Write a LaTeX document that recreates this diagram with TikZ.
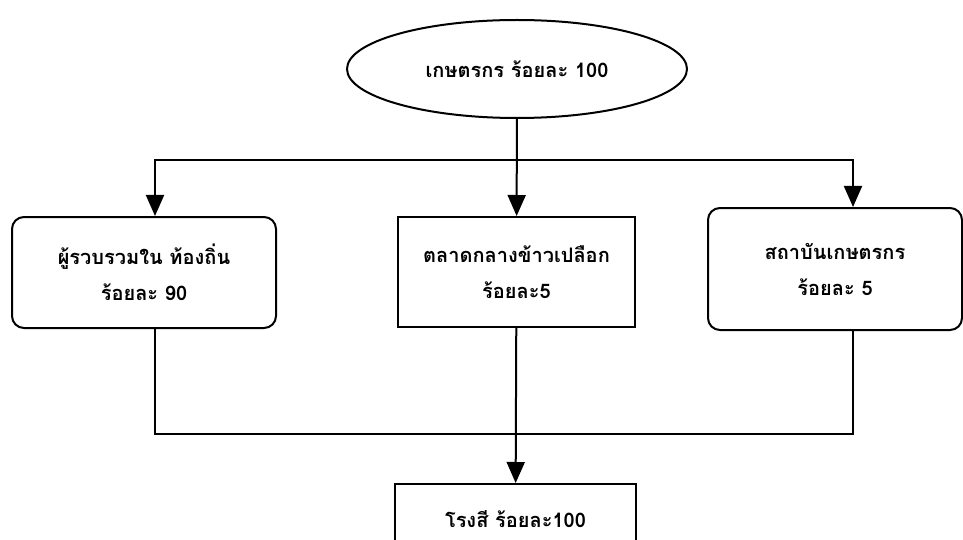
\documentclass[tikz,border=0pt]{standalone}
\usepackage{fontspec}
\newfontfamily\thaifont[Script=Thai]{Loma}
\usepackage{tikz}
\usetikzlibrary{arrows.meta,positioning,shapes.geometric}

\begin{document}
\begin{tikzpicture}[x=1pt,y=-1pt,
		line width=2pt,
		every node/.style={font=\thaifont\bfseries\fontsize{20}{36}\selectfont,align=center,inner sep=0pt},
		oval/.style={draw,ellipse,minimum width=340,minimum height=98},
		roundbox/.style={draw,rounded corners=12pt},
		squarebox/.style={draw},
		flow/.style={-{Triangle[length=21pt,width=18pt]}}]
				\clip (0,0) rectangle (963,540);
				\node[oval] (farmer) at (517,69) {เกษตรกร ร้อยละ 100};
				\node[roundbox,minimum width=264,minimum height=111] (collector) at (144,272.5) {ผู้รวบรวมใน ท้องถิ่น\\ร้อยละ 90};
				\node[squarebox,minimum width=237,minimum height=110] (market) at (516.5,272) {ตลาดกลางข้าวเปลือก\\ร้อยละ5};
				\node[roundbox,minimum width=254,minimum height=122] (coop) at (835,269) {สถาบันเกษตรกร\\ร้อยละ 5};
				\node[squarebox,minimum width=241,minimum height=70,anchor=north] (mill) at (515.5,483) {โรงสี ร้อยละ100};
				\coordinate (split) at (516.5,160);
				\coordinate (merge) at (516.5,434);
				\draw[flow] (farmer) -- (market);
				\draw[flow] (split) -| ([xshift=11pt]collector.north);
				\draw[flow] (split) -| ([xshift=18pt]coop.north);
				\draw ([xshift=11pt]collector.south) |- (merge) -| ([xshift=18pt]coop.south);
				\draw[flow] (market) -- (mill);
			\end{tikzpicture}
\end{document}
